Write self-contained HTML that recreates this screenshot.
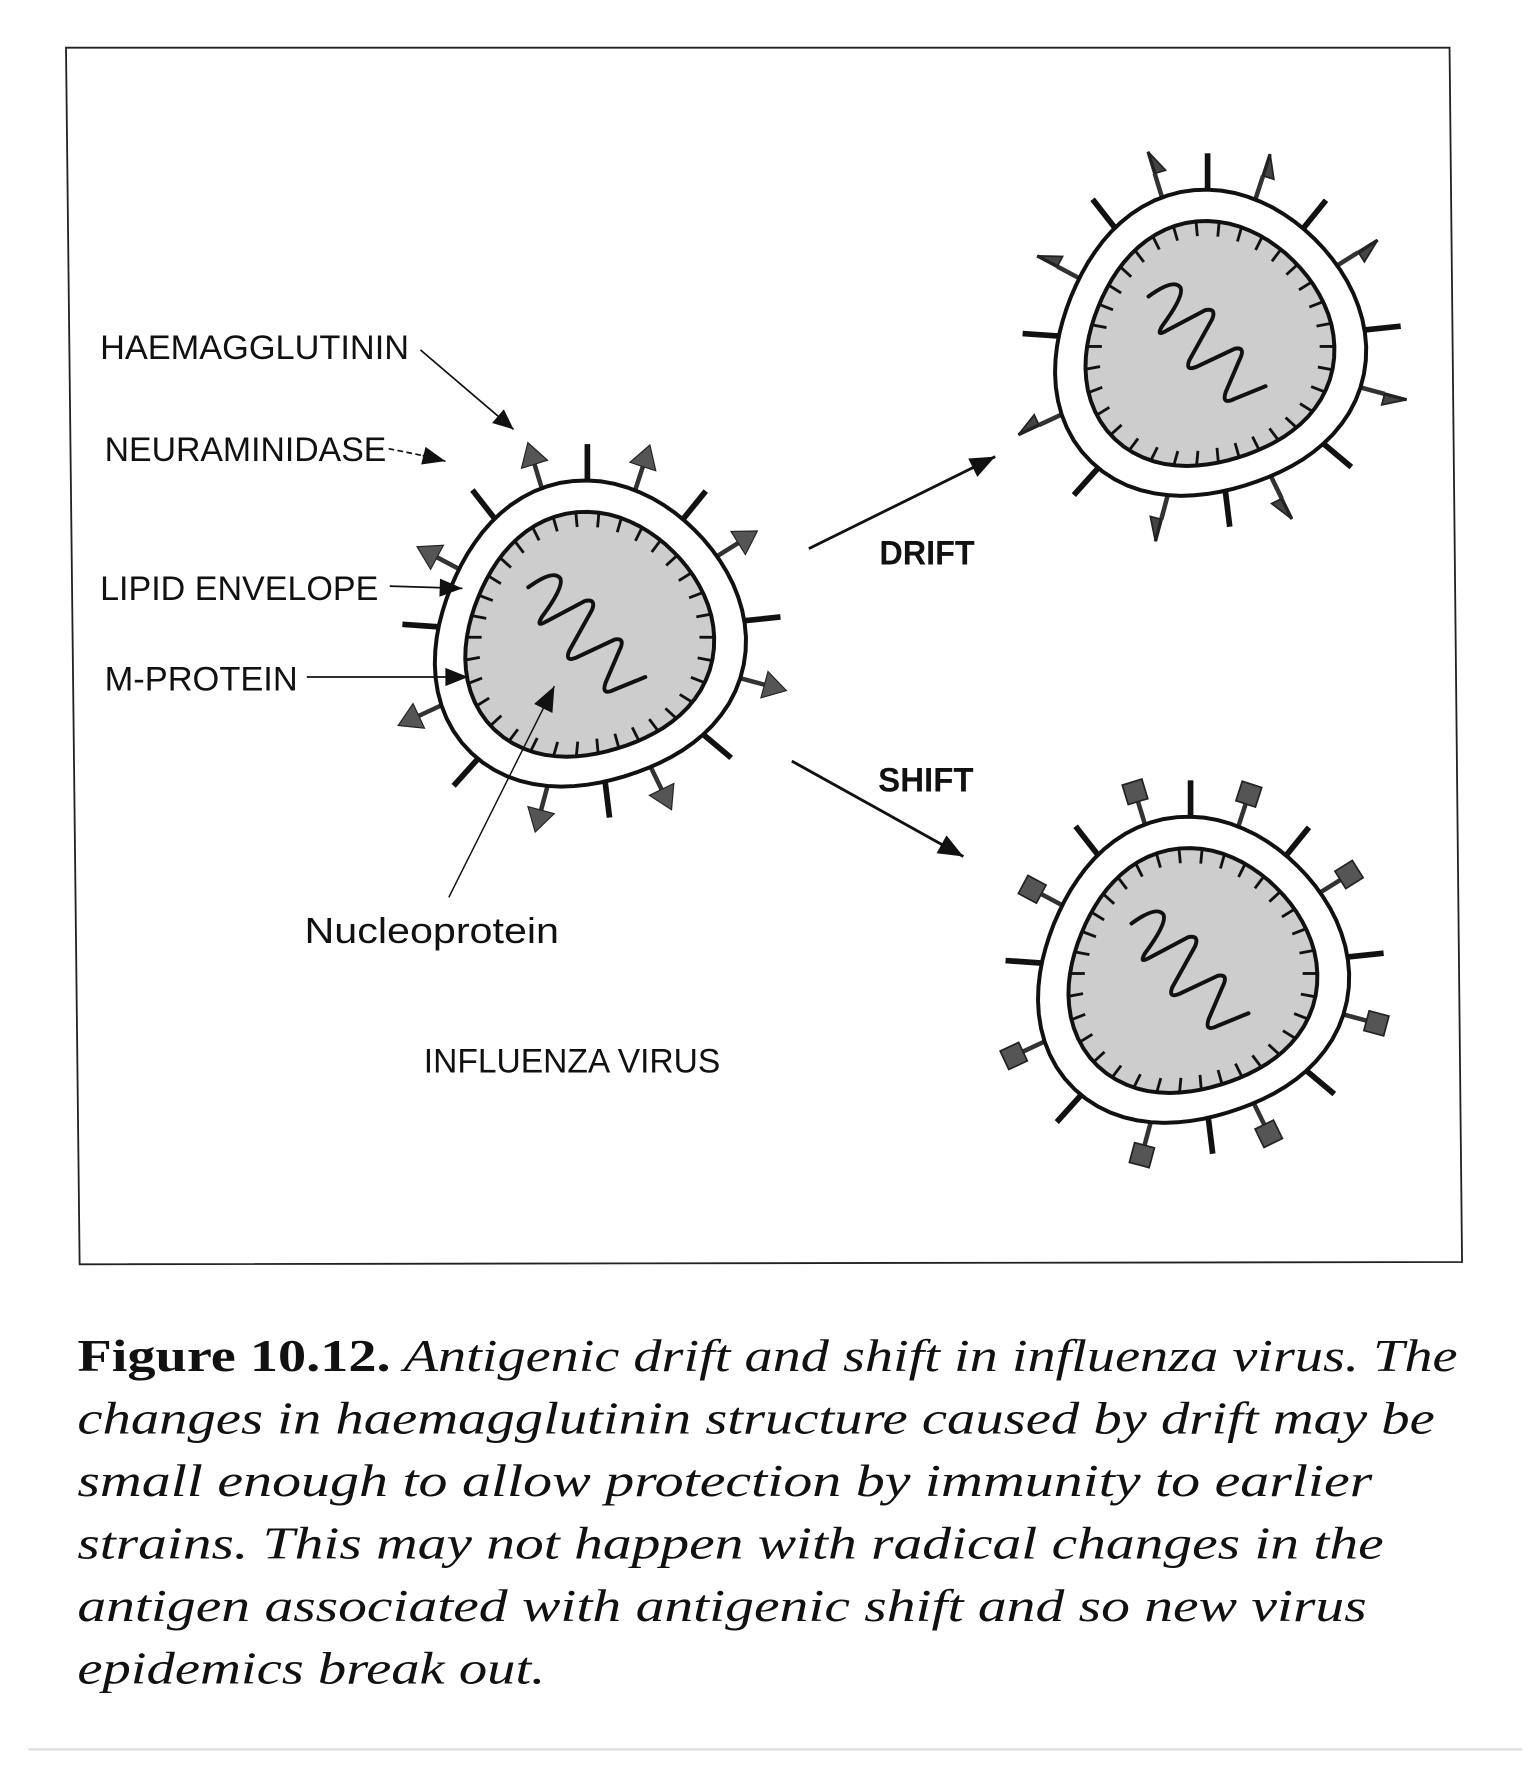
<!DOCTYPE html>
<html><head><meta charset="utf-8"><style>
html,body{margin:0;padding:0;background:#fff;}
svg{display:block;}
</style></head><body>
<svg id="s" width="1536" height="1780" viewBox="0 0 1352 1567" xmlns="http://www.w3.org/2000/svg">
<rect x="0" y="0" width="1352" height="1567" fill="#fff"/>
<polygon points="58,42 1276,42 1287,1111 70,1113" fill="none" stroke="#222" stroke-width="1.6"/>
<g font-family="Liberation Sans, sans-serif" fill="#111">
<text x="88" y="316" font-size="30" textLength="272" lengthAdjust="spacingAndGlyphs">HAEMAGGLUTININ</text>
<text x="92" y="406" font-size="30" textLength="248" lengthAdjust="spacingAndGlyphs">NEURAMINIDASE</text>
<text x="88" y="528" font-size="30" textLength="245" lengthAdjust="spacingAndGlyphs">LIPID ENVELOPE</text>
<text x="92" y="608" font-size="30" textLength="170" lengthAdjust="spacingAndGlyphs">M-PROTEIN</text>
<text x="268" y="830" font-size="32" textLength="224" lengthAdjust="spacingAndGlyphs">Nucleoprotein</text>
<text x="373" y="944" font-size="30" textLength="261" lengthAdjust="spacingAndGlyphs">INFLUENZA VIRUS</text>
<text x="774" y="497" font-size="30" font-weight="bold" textLength="84" lengthAdjust="spacingAndGlyphs">DRIFT</text>
<text x="773" y="697" font-size="30" font-weight="bold" textLength="84" lengthAdjust="spacingAndGlyphs">SHIFT</text>
</g>
<g font-family="Liberation Serif, serif" font-size="40" fill="#111" font-style="italic">
<text x="68" y="1207" textLength="1215" lengthAdjust="spacingAndGlyphs"><tspan font-style="normal" font-weight="bold">Figure 10.12.</tspan> Antigenic drift and shift in influenza virus. The</text>
<text x="68" y="1262" textLength="1195" lengthAdjust="spacingAndGlyphs">changes in haemagglutinin structure caused by drift may be</text>
<text x="68" y="1317" textLength="1140" lengthAdjust="spacingAndGlyphs">small enough to allow protection by immunity to earlier</text>
<text x="68" y="1372" textLength="1150" lengthAdjust="spacingAndGlyphs">strains. This may not happen with radical changes in the</text>
<text x="68" y="1427" textLength="1135" lengthAdjust="spacingAndGlyphs">antigen associated with antigenic shift and so new virus</text>
<text x="68" y="1482" textLength="412" lengthAdjust="spacingAndGlyphs">epidemics break out.</text>
</g>
<line x1="25" y1="1540" x2="1340" y2="1540" stroke="#ddd" stroke-width="2"/>
<g id="g"></g>
</svg>
<script>
var NS="http://www.w3.org/2000/svg",G=document.getElementById('g');
function el(t,a){var e=document.createElementNS(NS,t);for(var k in a)e.setAttribute(k,a[k]);G.appendChild(e);return e;}
function arrow(x1,y1,x2,y2,w,hl,hw){
 el('line',{x1:x1,y1:y1,x2:x2,y2:y2,stroke:'#111','stroke-width':w});
 var a=Math.atan2(y2-y1,x2-x1),c=Math.cos(a),s=Math.sin(a);
 var bx=x2-hl*c,by=y2-hl*s;
 el('polygon',{points:x2+','+y2+' '+(bx-hw*s)+','+(by+hw*c)+' '+(bx+hw*s)+','+(by-hw*c),fill:'#111'});
}
var angles=[-107,-90,-72,-51,-32,-6,15,40,64,83,105,132,155,184,208,232];
function R(t,base){return base*(1+0.04*Math.sin(3*t+0.7)+0.03*Math.cos(2*t+1.3));}
function shape(cx,cy,base){var d='';for(var i=0;i<=72;i++){var t=i/72*2*Math.PI,r=R(t,base);d+=(i?'L':'M')+(cx+r*Math.cos(t)).toFixed(1)+','+(cy+r*Math.sin(t)).toFixed(1);}return d+'Z';}
function virus(cx,cy,type){
 var ro=135,ri=108;
 for(var i=0;i<angles.length;i++){
  var t=angles[i]*Math.PI/180,c=Math.cos(t),s=Math.sin(t),r0=R(t,ro);
  if(i%2==1){
   el('line',{x1:cx+(r0-5)*c,y1:cy+(r0-5)*s,x2:cx+(r0+32)*c,y2:cy+(r0+32)*s,stroke:'#111','stroke-width':5});
  } else {
   var r1=r0+22,r2=r0+42;
   el('line',{x1:cx+(r0-3)*c,y1:cy+(r0-3)*s,x2:cx+r1*c,y2:cy+r1*s,stroke:'#333','stroke-width':4});
   var bx=cx+r1*c,by=cy+r1*s,tx=cx+r2*c,ty=cy+r2*s;
   if(type==0){
    el('polygon',{points:tx+','+ty+' '+(bx-12*s)+','+(by+12*c)+' '+(bx+12*s)+','+(by-12*c),fill:'#555',stroke:'#222','stroke-width':1});
   } else if(type==1){
    el('polygon',{points:tx+','+ty+' '+(bx-10*s)+','+(by+10*c)+' '+bx+','+by,fill:'#444',stroke:'#222','stroke-width':1.5});
    el('line',{x1:bx,y1:by,x2:tx,y2:ty,stroke:'#222','stroke-width':3});
   } else {
    var mx=cx+(r1+8)*c,my=cy+(r1+8)*s,h=9;
    var p=[[-h,-h],[h,-h],[h,h],[-h,h]].map(function(q){return (mx+q[0]*c-q[1]*s)+','+(my+q[0]*s+q[1]*c);}).join(' ');
    el('polygon',{points:p,fill:'#555',stroke:'#222','stroke-width':1.5});
   }
  }
 }
 el('path',{d:shape(cx,cy,ro),fill:'#fff',stroke:'#111','stroke-width':3.5});
 el('path',{d:shape(cx,cy,ri),fill:'#cdcdcd',stroke:'#111','stroke-width':3.5});
 for(var k=0;k<34;k++){var t=k/34*2*Math.PI,r=R(t,ri),c=Math.cos(t),s=Math.sin(t);
  el('line',{x1:cx+r*c,y1:cy+r*s,x2:cx+(r-13)*c,y2:cy+(r-13)*s,stroke:'#111','stroke-width':2.5});}
 var z='M-52,-44 Q-30,-60 -24,-52 Q-20,-45 -40,-18 Q-46,-8 -36,-14 L-2,-32 Q8,-34 4,-24 L-16,12 Q-20,22 -10,18 L24,2 Q34,0 28,12 L16,40 Q12,52 24,46 L51,35';
 el('path',{d:z,transform:'translate('+cx+','+cy+')',fill:'none',stroke:'#111','stroke-width':3.5,'stroke-linejoin':'round','stroke-linecap':'round'});
}
virus(517,561,0);
virus(1063,305,1);
virus(1048,857,2);
arrow(370,308,452,378,1.5,18,8);
el('line',{x1:342,y1:395,x2:372,y2:401,stroke:'#111','stroke-width':1.5,'stroke-dasharray':'5,3'});
arrow(372,401,392,406,1.5,20,8);
arrow(343,516,407,518,1.5,20,8);
arrow(270,596,412,596,1.5,20,8);
arrow(395,790,488,604,1.3,22,9);
arrow(712,483,876,402,2.5,22,9);
arrow(697,670,848,754,2.5,22,9);
</script>
</body></html>
